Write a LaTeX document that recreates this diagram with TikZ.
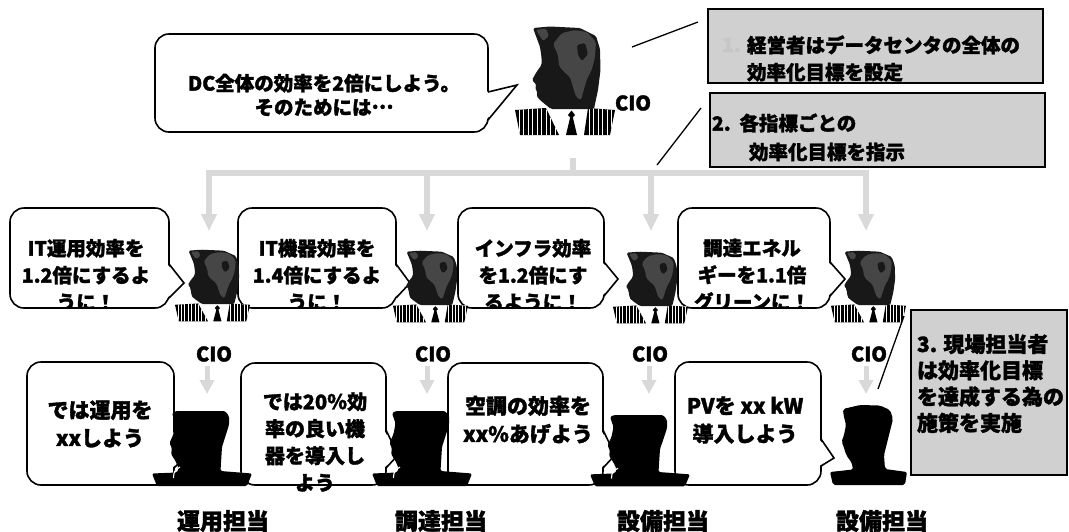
\documentclass[tikz,border=0pt]{standalone}
\usepackage{fontspec}
\setmainfont{Noto Sans CJK JP}[BoldFeatures={FakeBold=1.6}]
\usetikzlibrary{arrows.meta,calc}

\definecolor{arrowgray}{HTML}{D9D9D9}
\definecolor{boxgray}{HTML}{D0D0D0}
\definecolor{headdark}{HTML}{181818}
\definecolor{headmap}{HTML}{464646}
\definecolor{numgray}{HTML}{C6C6C6}

% font size / line spacing, bold
\newcommand\setfs[2]{\fontsize{#1}{#2}\selectfont\bfseries}

% speech bubble with a tail on its right side
% {name}{left}{top}{right}{bottom}{tail top y}{tip}{tail bottom y}
\newcommand\speech[8]{%
  \node[bubble, anchor=north west, minimum width={#4-#2}, minimum height={#5-#3}] (#1) at (#2,#3) {};
  \coordinate (#1-tip) at #7;
  \fill[white] (#4-2,#6) -- (#1-tip) -- (#4-2,#8) -- cycle;
  \draw[bubbleline] (#4,#6) -- (#1-tip) -- (#4,#8);
}

\tikzset{
  ciofigure/.pic={
    % suit
    \fill[white] (1,82) -- (99,82) -- (95,108) -- (5,108) -- cycle;
    \begin{scope}
      \clip (0,83) -- (31,81) -- (44,108) -- (5,108) -- cycle;
      \fill[black] (-2,78) rectangle (46,110);
      \foreach \sx in {4,8.5,...,42} \draw[white,line width=0.6pt] (\sx,78) -- (\sx,110);
    \end{scope}
    \begin{scope}
      \clip (73,81) -- (100,83) -- (95,108) -- (69,108) -- cycle;
      \fill[black] (66,78) rectangle (102,110);
      \foreach \sx in {74,78.5,...,100} \draw[white,line width=0.6pt] (\sx,78) -- (\sx,110);
    \end{scope}
    % tie
    \fill[black] (56.5,83.5) -- (60,88) -- (56.5,92) -- (53,88) -- cycle;
    \fill[black] (55,91) -- (58,91) -- (62,108) -- (51,108) -- cycle;
    % head
    \fill[headdark, rounded corners=1.5pt] (18,1) -- (35,-0.5) -- (65,1) -- (81,9) -- (85,22) -- (85.5,43) -- (83,63) -- (80,77) -- (79,82) -- (36,82) -- (31,78) -- (25,73) -- (21.5,69) -- (22.5,65) -- (20,61.5) -- (21.5,58) -- (17,53) -- (21.5,45) -- (26.5,38) -- (26.5,30) -- (25,20) -- cycle;
    % map-like shading on the head
    \fill[headmap, rounded corners=2pt] (47,6) -- (60,3) -- (72,5) -- (81,15) -- (80,30) -- (77,42) -- (72,52) -- (69,62) -- (66,73) -- (61,70) -- (58,60) -- (55,50) -- (49,45) -- (44,39) -- (43,28) -- (38,17) -- cycle;
    \fill[headdark, rounded corners=1.5pt] (62,18) -- (70,16) -- (73,27) -- (67,34) -- (63,28) -- cycle;
    \fill[headmap, rounded corners=1.5pt] (21,3) -- (31,1.5) -- (34,9) -- (28,14) -- cycle;
  },
  staff/.pic={
    \fill[black, rounded corners=1.5pt] (20,2) -- (24,0) -- (73,0) -- (77,5) -- (77,14) -- (70,36) -- (68.5,60) -- (100,62.5) -- (95,75) -- (5,75) -- (0,62.5) -- (25,61.5) -- (26.5,57) -- (23.5,50) -- (19,43) -- (20,37.5) -- (17.5,32) -- (21.5,23) -- (23.5,12.5) -- cycle;
    \draw[white, line width=1.1pt] (21.5,67) .. controls (22,60) .. (28,56);
  },
  staffround/.pic={
    \fill[black, rounded corners=2pt] (13,4) -- (30,0) -- (50,0.5) -- (60,5) -- (63,14) -- (58,34) -- (54,50) -- (55,64) -- (77,67) -- (75,80) -- (3,80) -- (0,67) -- (23,64.5) -- (21.5,57) -- (18,53) -- (15,47) -- (14,42) -- (11.5,37) -- (14,30) -- (16,20) -- (13.5,10) -- cycle;
  }
}

\begin{document}
\begin{tikzpicture}[x=1pt,y=-1pt,
  bubble/.style={draw=black, line width=1.6pt, fill=white, rounded corners=14pt, outer sep=0pt, inner sep=0pt},
  bubbleline/.style={draw=black, line width=1.6pt, line join=miter},
  graybox/.style={draw=black, line width=1.5pt, fill=boxgray, outer sep=0pt, inner sep=0pt},
  treebar/.style={draw=arrowgray, line width=6.5pt},
  treearrow/.style={treebar, -{Triangle[width=15pt,length=17pt]}},
  treeends/.style={treebar, {Triangle[width=15pt,length=17pt]}-{Triangle[width=15pt,length=17pt]}},
  downarrow/.style={draw=arrowgray, line width=5pt, -{Triangle[width=14pt,length=14pt]}},
  callout/.style={draw=black, line width=1.3pt},
  txt/.style={inner sep=0pt, outer sep=0pt, align=center},
  toptext/.style={txt, font=\setfs{19.5}{24}},
  midtext/.style={txt, font=\setfs{19.5}{27}},
  bottext/.style={txt, font=\setfs{21}{28}},
  boxtext/.style={txt, anchor=west, align=left, font=\setfs{19.5}{27}},
  rolelabel/.style={txt, font=\setfs{23}{28}},
  ciolabel/.style={txt, font=\setfs{20}{24}}
]
\useasboundingbox (0,0) rectangle (1069,531);

% ---- distribution tree from the top CIO ----
\coordinate (stemtop) at (573,158);
\coordinate (jm) at (573,173);
\coordinate (j1) at (209,173);
\coordinate (j2) at (427,173);
\coordinate (j3) at (651,173);
\coordinate (j4) at (866,173);
\coordinate (a1) at (209,231);
\coordinate (a2) at (427,231);
\coordinate (a3) at (651,231);
\coordinate (a4) at (866,231);
\draw[treebar] (stemtop) -- (jm);
\draw[treeends] (a1) -- (j1) -- (j4) -- (a4);
\draw[treearrow] (j2) -- (a2);
\draw[treearrow] (j3) -- (a3);

% ---- top: CIO ----
\speech{topb}{155}{34}{488}{132}{92}{(517,85)}{120}
\node[toptext] (topt) at (324,95) {DC全体の効率を2倍にしよう。\\そのためには\raisebox{0.3em}{…}};
\pic (ciotopfig) at (515,27) {ciofigure};
\node[ciolabel] (ciotop) at (633,103) {CIO};

% ---- step boxes 1 and 2 ----
\node[graybox, anchor=north west, minimum width=335, minimum height=74] (g1) at (708,9) {};
\node[boxtext, text=numgray] (g1n) at (722,45) {1.};
\node[boxtext] (g1t) at (747,58.5) {経営者はデータセンタの全体の\\効率化目標を設定};
\node[graybox, anchor=north west, minimum width=335, minimum height=74] (g2) at (710,93) {};
\node[boxtext] (g2a) at (712,123) {2.\hspace{0.45em}各指標ごとの};
\node[boxtext] (g2b) at (749,152) {効率化目標を指示};
\coordinate (k1a) at (632,47);
\coordinate (k1b) at (698,22);
\coordinate (k2a) at (701,108);
\coordinate (k2b) at (657,165);
\draw[callout] (k1a) -- (k1b);
\draw[callout] (k2a) -- (k2b);

% ---- middle row: CIOs of each domain ----
\speech{m1}{10}{208}{169}{308}{264}{(184,283)}{298}
\speech{m2}{238}{208}{396}{308}{264}{(410,283)}{298}
\speech{m3}{458}{208}{604}{308}{262}{(618,279)}{296}
\speech{m4}{678}{208}{830}{308}{262}{(845,279)}{296}
\begin{scope}
  \clip[rounded corners=14pt] (m1.north west) rectangle (m1.south east);
  \node[midtext] (m1t) at (86,275) {IT運用効率を\\1.2倍にするよ\\うに！};
\end{scope}
\begin{scope}
  \clip[rounded corners=14pt] (m2.north west) rectangle (m2.south east);
  \node[midtext] (m2t) at (317,275) {IT機器効率を\\1.4倍にするよ\\うに！};
\end{scope}
\begin{scope}
  \clip[rounded corners=14pt] (m3.north west) rectangle (m3.south east);
  \node[midtext] (m3t) at (533,275) {インフラ効率\\を1.2倍にす\\るように！};
\end{scope}
\begin{scope}
  \clip[rounded corners=14pt] (m4.north west) rectangle (m4.south east);
  \node[midtext] (m4t) at (752,275) {調達エネル\\ギーを1.1倍\\グリーンに！};
\end{scope}
\pic[xscale=0.75, yscale=0.66] (mfig1) at (175,250) {ciofigure};
\pic[xscale=0.75, yscale=0.66] (mfig2) at (393,251) {ciofigure};
\pic[xscale=0.75, yscale=0.66] (mfig3) at (613,252) {ciofigure};
\pic[xscale=0.75, yscale=0.66] (mfig4) at (831,251) {ciofigure};
\node[ciolabel] (cio1) at (214,354) {CIO};
\node[ciolabel] (cio2) at (433,354) {CIO};
\node[ciolabel] (cio3) at (650,354) {CIO};
\node[ciolabel] (cio4) at (869,354) {CIO};

% ---- arrows down to the field staff ----
\coordinate (l1) at (207,366);
\coordinate (l2) at (427,366);
\coordinate (l3) at (649,366);
\coordinate (l4) at (866,366);
\coordinate (l1e) at (207,394);
\coordinate (l2e) at (427,394);
\coordinate (l3e) at (649,394);
\coordinate (l4e) at (866,394);
\draw[downarrow] (l1) -- (l1e);
\draw[downarrow] (l2) -- (l2e);
\draw[downarrow] (l3) -- (l3e);
\draw[downarrow] (l4) -- (l4e);

% ---- bottom row: field staff ----
\speech{b1}{27}{362}{174}{485}{430}{(186,456)}{468}
\speech{b2}{241}{363}{386}{485}{430}{(398,455)}{468}
\speech{b3}{448}{363}{603}{485}{430}{(615,455)}{468}
\speech{b4}{675}{362}{821}{485}{439}{(834,458)}{466}
\node[bottext] (b1t) at (100,424) {では運用を\\xxしよう};
\node[txt, font=\setfs{20}{27}] (b2t) at (315,442) {では20％効\\率の良い機\\器を導入し\\よう};
\node[bottext] (b3t) at (528,420) {空調の効率を\\xx\%あげよう};
\node[bottext] (b4t) at (745,420) {PVを xx kW\\導入しよう};
\pic (sfig1) at (152,411) {staff};
\pic (sfig2) at (372,411) {staff};
\pic[yscale=0.95] (sfig3) at (590,415) {staff};
\pic (sfig4) at (830,405) {staffround};
\node[rolelabel] (r1) at (223,521) {運用担当};
\node[rolelabel] (r2) at (441,521) {調達担当};
\node[rolelabel] (r3) at (663,521) {設備担当};
\node[rolelabel] (r4) at (882,521) {設備担当};

% ---- step box 3 ----
\node[graybox, anchor=north west, minimum width=156, minimum height=165] (g3) at (911,310) {};
\node[boxtext, font=\setfs{21}{26.3}] (g3t) at (917,383.5) {3.\hspace{0.3em}現場担当者\\は効率化目標\\を達成する為の\\施策を実施};
\coordinate (k3a) at (904,316);
\coordinate (k3b) at (878,389);
\draw[callout] (k3a) -- (k3b);
\end{tikzpicture}
\end{document}
